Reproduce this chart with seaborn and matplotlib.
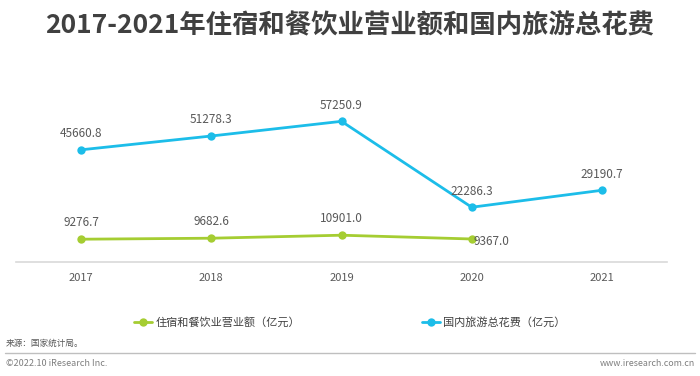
import numpy as np
import pandas as pd
import seaborn as sns
import matplotlib.pyplot as plt

# data
years = ["2017", "2018", "2019", "2020", "2021"]
catering = [9276.7, 9682.6, 10901.0, 9367.0, np.nan]
tourism = [45660.8, 51278.3, 57250.9, 22286.3, 29190.7]
series_names = ["住宿和餐饮业营业额（亿元）", "国内旅游总花费（亿元）"]

sns.set_style("white")
plt.rcParams['font.family'] = ['Noto Sans CJK SC', 'DejaVu Sans']

palette = {series_names[0]: "#a5cd32", series_names[1]: "#1cbde9"}

df = pd.DataFrame({
    "idx": list(range(len(years))) * 2,
    "value": catering + tourism,
    "series": [series_names[0]] * len(years) + [series_names[1]] * len(years),
})

fig = plt.figure(figsize=(7, 3.76), dpi=100)
ax = fig.add_axes([16 / 700, 1 - 262 / 376, (667 - 16) / 700, (262 - 90) / 376])

sns.lineplot(data=df.dropna(), x="idx", y="value", hue="series", palette=palette,
             marker="o", markersize=6, markeredgewidth=0, linewidth=2, ax=ax, legend=True)

ax.set_xlim(-0.5, len(years) - 0.5)
ax.set_ylim(0, 70000)
ax.set_xticks(range(len(years)))
ax.set_xticklabels(years)
ax.set_yticks([])
ax.set_xlabel("")
ax.set_ylabel("")
ax.tick_params(axis="x", length=0, pad=8, labelsize=8, labelcolor="#595959")
for s in ["top", "right", "left"]:
    ax.spines[s].set_visible(False)
ax.spines["bottom"].set_color("#d9d9d9")
ax.spines["bottom"].set_linewidth(1.2)

# value labels
for i, v in enumerate(tourism):
    ax.annotate("{:.1f}".format(v), (i, v), xytext=(0, 7), textcoords="offset points",
                ha="center", va="bottom", fontsize=8.5, color="#595959")
for i, v in enumerate(catering):
    if np.isnan(v):
        continue
    if i == 3:
        ax.annotate("{:.1f}".format(v), (i, v), xytext=(1, -2), textcoords="offset points",
                    ha="left", va="center", fontsize=8.5, color="#595959")
    else:
        ax.annotate("{:.1f}".format(v), (i, v), xytext=(0, 7), textcoords="offset points",
                    ha="center", va="bottom", fontsize=8.5, color="#595959")

handles, labels = ax.get_legend_handles_labels()
ax.legend(handles, labels, loc="center", bbox_to_anchor=(0.5, 1 - 322 / 376), bbox_transform=fig.transFigure,
          ncol=2, frameon=False, fontsize=8, handlelength=1.6, handletextpad=0.3, columnspacing=11,
          labelcolor="#404040")

fig.text(0.5, 1 - 25 / 376, "2017-2021年住宿和餐饮业营业额和国内旅游总花费", ha="center", va="center",
         fontsize=19, fontweight="bold", color="#404040")
fig.text(6 / 700, 1 - 343 / 376, "来源：国家统计局。", ha="left", va="center", fontsize=6.2, color="#595959")
fig.add_artist(plt.Line2D([5 / 700, 695 / 700], [1 - 353 / 376, 1 - 353 / 376], color="#bfbfbf", linewidth=1))
fig.text(6 / 700, 1 - 363 / 376, "©2022.10 iResearch Inc.", ha="left", va="center", fontsize=6.5, color="#7f7f7f")
fig.text(695 / 700, 1 - 363 / 376, "www.iresearch.com.cn", ha="right", va="center", fontsize=6.4, color="#7f7f7f")

fig.savefig("out.png", dpi=100)
